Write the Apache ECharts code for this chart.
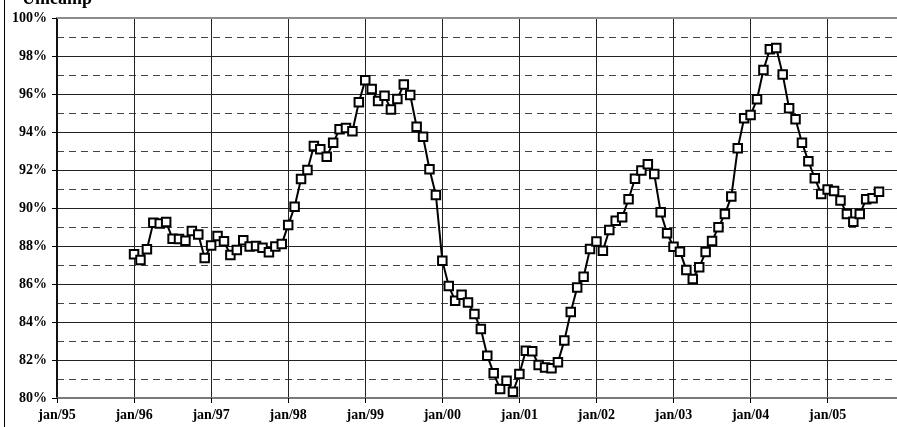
<!DOCTYPE html>
<html>
<head>
<meta charset="utf-8">
<script src="https://cdn.jsdelivr.net/npm/echarts@6/dist/echarts.min.js"></script>
<style>
html,body{margin:0;padding:0;background:#fff;}
#chart{width:897px;height:427px;}
</style>
</head>
<body>
<div id="chart"></div>
<script>
// Monthly series starting Jan 1996 (month offset 12 from Jan 1995)
var startOffset = 12;
var values = [
  87.56, 87.26, 87.83, 89.23, 89.19, 89.26, 88.38, 88.37, 88.28, 88.79, 88.61, 87.37,
  88.02, 88.53, 88.25, 87.53, 87.79, 88.30, 87.98, 88.00, 87.91, 87.67, 87.98, 88.11,
  89.10, 90.07, 91.53, 92.00, 93.26, 93.09, 92.70, 93.44, 94.14, 94.21, 94.04, 95.56,
  96.72, 96.26, 95.63, 95.91, 95.19, 95.74, 96.50, 95.95, 94.28, 93.75, 92.04, 90.68,
  87.23, 85.89, 85.12, 85.44, 85.02, 84.42, 83.63, 82.23, 81.30, 80.47, 80.91, 80.33,
  81.26, 82.49, 82.46, 81.74, 81.61, 81.56, 81.88, 83.02, 84.53, 85.82, 86.38, 87.84,
  88.24, 87.75, 88.84, 89.33, 89.51, 90.46, 91.54, 91.98, 92.30, 91.79, 89.77, 88.67,
  87.96, 87.70, 86.74, 86.26, 86.88, 87.68, 88.26, 88.99, 89.68, 90.60, 93.14, 94.72,
  94.89, 95.72, 97.26, 98.35, 98.42, 97.03, 95.25, 94.67, 93.44, 92.46, 91.56, 90.74,
  90.98, 90.89, 90.39, 89.68, 89.28, 89.68, 90.46, 90.51, 90.86
];
var tickLabels = ["jan/95","jan/96","jan/97","jan/98","jan/99","jan/00","jan/01","jan/02","jan/03","jan/04","jan/05"];
var titleText = "Unicamp";

var seriesData = values.map(function(v, i){ return [startOffset + i, v]; });

var chart = echarts.init(document.getElementById('chart'), null, {renderer:'canvas'});
var font = '"Liberation Serif","Times New Roman",serif';
chart.setOption({
  animation: false,
  backgroundColor: '#fff',
  title: {
    text: titleText, left: 17, top: -15,
    textStyle: {fontFamily: font, fontWeight: 'bold', fontSize: 18, color: '#000'}
  },
  grid: {left: 57, right: 0, top: 18, bottom: 29, containLabel: false},
  xAxis: [{
    type: 'value', min: 0, max: 130.8, interval: 12,
    axisLine: {show: true, onZero: false, lineStyle: {color: '#7a7a7a', width: 2}},
    axisTick: {show: true, length: 5, lineStyle: {color: '#000', width: 1}},
    axisLabel: {
      margin: 10, fontFamily: font, fontWeight: 'bold', fontSize: 14, color: '#000',
      showMaxLabel: false,
      formatter: function(v){ return tickLabels[Math.round(v/12)] || ''; }
    },
    splitLine: {show: true, lineStyle: {color: '#222', width: 1}}
  }, {
    type: 'value', min: 0, max: 130.8, position: 'top',
    axisLine: {show: true, lineStyle: {color: '#8c8c8c', width: 2}},
    axisTick: {show: false}, axisLabel: {show: false}, splitLine: {show: false}
  }],
  yAxis: {
    type: 'value', min: 80, max: 100, interval: 2,
    axisLine: {show: true, lineStyle: {color: '#111', width: 2}},
    axisTick: {show: true, length: 5, lineStyle: {color: '#000', width: 1}},
    axisLabel: {
      margin: 10, fontFamily: font, fontWeight: 'bold', fontSize: 14, color: '#000',
      formatter: '{value}%'
    },
    splitLine: {show: true, lineStyle: {color: '#222', width: 1}},
    minorTick: {show: false, splitNumber: 2},
    minorSplitLine: {show: true, lineStyle: {color: '#444', width: 1, type: [7, 5]}}
  },
  graphic: [{
    type: 'line', shape: {x1: 4.5, y1: 0, x2: 4.5, y2: 427},
    style: {stroke: '#000', lineWidth: 1}
  }],
  series: [{
    type: 'line', data: seriesData, xAxisIndex: 0,
    symbol: 'rect', symbolSize: 8.5, showAllSymbol: true,
    lineStyle: {color: '#000', width: 2},
    itemStyle: {color: '#fff', borderColor: '#000', borderWidth: 2}
  }]
});
</script>
</body>
</html>
